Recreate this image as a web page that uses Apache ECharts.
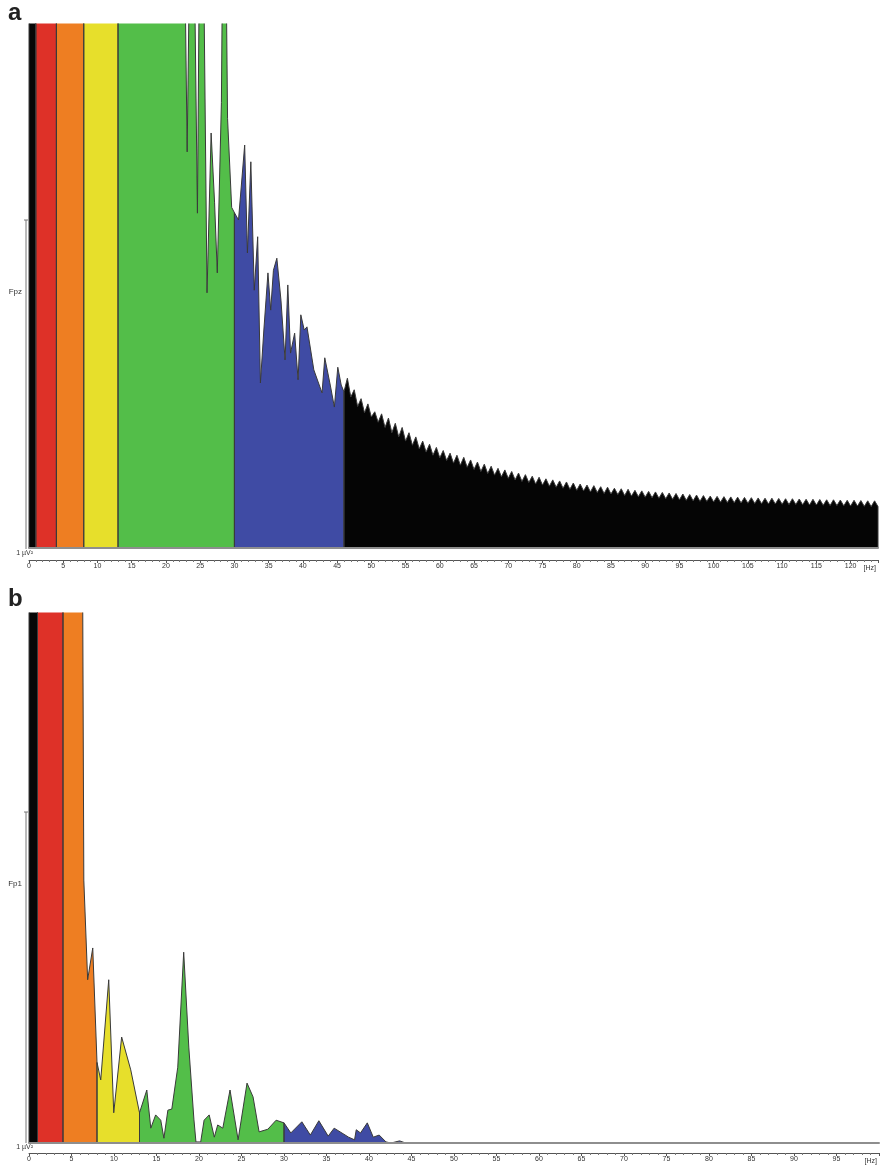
<!DOCTYPE html>
<html>
<head>
<meta charset="utf-8">
<script src="https://cdn.jsdelivr.net/npm/echarts@6/dist/echarts.min.js"></script>
<style>
html, body { margin: 0; padding: 0; background: #fff; }
#chart { width: 885px; height: 1168px; }
</style>
</head>
<body>
<div id="chart"></div>
<script>
// power spectra, y in % of plot height (values > 100 run off the top)
// panel a: Fpz
const freqA = [0, 1, 4, 8, 13, 22.4, 23.1, 23.8, 24.6, 25.1, 25.6, 26.0, 26.6, 27.1, 27.5,
  28.1, 28.5, 29.0, 29.6, 30, 30.6, 31.5, 31.9, 32.4, 32.9, 33.4, 33.8, 34.3, 34.9, 35.3,
  35.7, 36.2, 36.8, 37.4, 37.8, 38.2, 38.8, 39.3, 39.7, 40.2, 40.6, 41.6, 42.8, 43.2, 44.0,
  44.6, 45.1, 45.6];
const powerA = [150, 150, 150, 150, 150, 150, 75.6, 150, 63.9, 150, 100, 48.7, 79.2, 66, 52.5,
  85, 150, 82, 65, 64, 62.6, 76.9, 56.3, 73.7, 49.2, 59.4, 31.5, 41.6, 52.5, 45.4,
  53, 55.3, 47.3, 35.9, 50.2, 37.2, 41.0, 32.1, 44.5, 41.6, 42.2, 34.0, 29.6, 36.3, 31.1,
  26.9, 34.5, 31.1];
// high-frequency tail of panel a: troughs at 46, 47 ... 124 Hz, spikes at 46.5 ... 123.5 Hz
const tailStartA = 46;
const tailTroughA = [29.8, 28.8, 27.0, 25.8, 25.0, 24.0, 23.0, 22.0, 21.2, 20.4,
  19.6, 18.9, 18.3, 17.7, 17.2, 16.7, 16.2, 15.8, 15.4, 15.0,
  14.6, 14.2, 13.9, 13.6, 13.3, 13.0, 12.7, 12.5, 12.2, 12.0,
  11.8, 11.6, 11.4, 11.2, 11.0, 10.9, 10.7, 10.6, 10.4, 10.3,
  10.2, 10.0, 9.9, 9.8, 9.7, 9.6, 9.5, 9.4, 9.3, 9.2,
  9.1, 9.0, 8.9, 8.9, 8.8, 8.75, 8.7, 8.65, 8.6, 8.55,
  8.5, 8.45, 8.4, 8.4, 8.35, 8.3, 8.3, 8.25, 8.2, 8.2,
  8.15, 8.1, 8.1, 8.05, 8.0, 8.0, 7.95, 7.9, 7.9];
const tailPeakA = [32.4, 30.2, 28.5, 27.5, 26.0, 25.6, 24.8, 23.8, 23.0, 22.0,
  21.2, 20.4, 19.8, 19.2, 18.6, 18.1, 17.7, 17.3, 16.8, 16.4,
  16.0, 15.6, 15.2, 14.9, 14.6, 14.3, 14.0, 13.7, 13.5, 13.2,
  13.0, 12.8, 12.6, 12.4, 12.2, 12.0, 11.9, 11.7, 11.6, 11.4,
  11.3, 11.2, 11.0, 10.9, 10.8, 10.7, 10.6, 10.5, 10.4, 10.3,
  10.2, 10.1, 10.0, 9.9, 9.85, 9.8, 9.75, 9.7, 9.65, 9.6,
  9.55, 9.5, 9.5, 9.45, 9.4, 9.4, 9.35, 9.3, 9.3, 9.25,
  9.2, 9.2, 9.15, 9.1, 9.1, 9.05, 9.0, 9.0];

// panel b: Fp1
const freqB = [0, 1, 4, 6.2, 6.45, 6.9, 7.5, 8, 8.44, 9.38, 9.97, 10.9, 11.97, 13, 13.86,
  14.33, 14.9, 15.5, 15.87, 16.34, 16.8, 17.5, 18.2, 18.8, 19.4, 19.64, 20.2, 20.6, 21.2, 21.8,
  22.2, 22.8, 23.65, 24.6, 25.65, 26.36, 27.07, 28.1, 29.07, 30, 30.8, 32.1, 33.1, 34.1, 35.2,
  35.9, 37.6, 38.3, 38.5, 39.0, 39.8, 40.5, 41.2, 42.0, 42.6, 43.6, 44.3, 46, 100];
const powerB = [150, 150, 150, 150, 49.6, 30.8, 36.8, 15.2, 11.9, 30.8, 5.7, 20.0, 13.8, 5.7, 10.0,
  2.8, 5.3, 4.3, 0.9, 6.2, 6.4, 14.3, 36.0, 18.1, 4.5, 0.2, 0.2, 4.3, 5.3, 1.1,
  3.4, 2.8, 10.0, 0.6, 11.3, 8.7, 2.1, 2.6, 4.3, 3.8, 1.9, 4.0, 1.5, 4.2, 1.3,
  2.8, 1.1, 0.6, 2.5, 1.9, 3.8, 1.1, 1.5, 0.2, 0, 0.4, 0, 0, 0];

// EEG bands and their fill colours
const bandEdges = [0, 1, 4, 8, 13, 30, 46];
const bandColors = ["#070707", "#de3128", "#ee7e22", "#e7df2b", "#53be49", "#3f4ba4", "#050505"];
const maxHzA = 124;
const maxHzB = 100;

function withTail(freq, power) {
  const f = freq.slice();
  const p = power.slice();
  tailTroughA.forEach((v, i) => {
    f.push(tailStartA + i);
    p.push(v);
    if (i < tailPeakA.length) {
      f.push(tailStartA + i + 0.5);
      p.push(tailPeakA[i]);
    }
  });
  return [f, p];
}

function bandSeries(freq, power, maxHz, axisIdx) {
  const edges = bandEdges.concat([maxHz]);
  return bandColors.map((color, b) => {
    const lo = edges[b];
    const hi = edges[b + 1];
    const pts = [[lo, 0]];
    freq.forEach((f, i) => {
      if (f >= lo && f <= hi) pts.push([f, power[i]]);
    });
    pts.push([hi, 0]);
    return {
      type: "line",
      xAxisIndex: axisIdx * 2,
      yAxisIndex: axisIdx,
      data: pts,
      symbol: "none",
      silent: true,
      clip: true,
      lineStyle: { color: "#3a3a3a", width: 1 },
      areaStyle: { color, opacity: 1 },
    };
  });
}

function baseAxis(gridIndex, max) {
  return {
    type: "value",
    gridIndex,
    min: 0,
    max,
    position: "bottom",
    z: 5,
    axisLine: { show: true, onZero: false, lineStyle: { color: "#8e8e8e", width: 2 } },
    axisTick: { show: false },
    axisLabel: { show: false },
    splitLine: { show: false },
  };
}

function tickAxis(gridIndex, max, offset) {
  return {
    type: "value",
    gridIndex,
    min: 0,
    max,
    interval: 5,
    position: "bottom",
    offset,
    axisLine: { show: true, onZero: false, lineStyle: { color: "#555", width: 1 } },
    axisTick: { show: true, length: 3, lineStyle: { color: "#555" } },
    minorTick: { show: true, splitNumber: 5, length: 2, lineStyle: { color: "#777" } },
    axisLabel: {
      fontSize: 7,
      color: "#333",
      margin: 3,
      fontFamily: "Liberation Sans",
      showMaxLabel: false,
      formatter: (v) => (v % 5 === 0 && v < max ? String(v) : ""),
    },
    splitLine: { show: false },
    name: "[Hz]",
    nameLocation: "end",
    nameGap: -2,
    nameTextStyle: {
      fontSize: 7,
      color: "#333",
      fontFamily: "Liberation Sans",
      align: "right",
      verticalAlign: "top",
      padding: [5, 0, 0, 0],
    },
  };
}

function chanAxis(gridIndex) {
  return {
    type: "value",
    gridIndex,
    min: 0,
    max: 100,
    interval: 100,
    axisLine: { show: false },
    axisTick: { show: false },
    axisLabel: { show: false },
    splitLine: { show: false },
  };
}

function scaleBar(top, bottom, chan) {
  const txt = { fontSize: 7, fill: "#333", fontFamily: "Liberation Sans", verticalAlign: "middle" };
  return [
    { type: "line", shape: { x1: 26, y1: top, x2: 26, y2: bottom }, style: { stroke: "#777", lineWidth: 1 } },
    { type: "line", shape: { x1: 24, y1: top, x2: 28, y2: top }, style: { stroke: "#777", lineWidth: 1 } },
    { type: "text", x: 33, y: bottom + 4, style: { ...txt, text: "1 µV²", align: "right" } },
    { type: "text", x: 22, y: top + 72, style: { ...txt, fontSize: 8, text: chan, align: "right" } },
  ];
}

const [fA, pA] = withTail(freqA, powerA);

const chart = echarts.init(document.getElementById("chart"));
chart.setOption({
  animation: false,
  backgroundColor: "#fff",
  title: [
    { text: "a", left: 8, top: 1, padding: 0,
      textStyle: { fontSize: 24, fontWeight: "bold", color: "#222", fontFamily: "Liberation Sans" } },
    { text: "b", left: 8, top: 587, padding: 0,
      textStyle: { fontSize: 24, fontWeight: "bold", color: "#222", fontFamily: "Liberation Sans" } },
  ],
  grid: [
    { left: 29, top: 24, width: 849, height: 524 },
    { left: 29, top: 613, width: 850, height: 530 },
  ],
  xAxis: [
    baseAxis(0, maxHzA),
    tickAxis(0, maxHzA, 12),
    baseAxis(1, maxHzB),
    tickAxis(1, maxHzB, 10),
  ],
  yAxis: [chanAxis(0), chanAxis(1)],
  graphic: [...scaleBar(220, 549, "Fpz"), ...scaleBar(812, 1143, "Fp1")],
  series: [
    ...bandSeries(fA, pA, maxHzA, 0),
    ...bandSeries(freqB, powerB, maxHzB, 1),
  ],
});
</script>
</body>
</html>
